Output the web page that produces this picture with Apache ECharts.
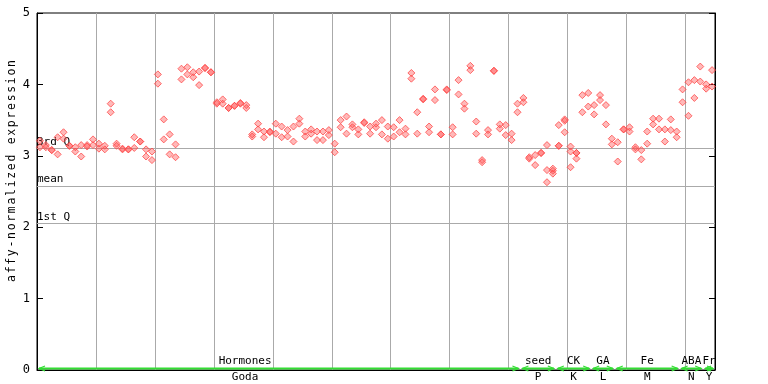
<!DOCTYPE html>
<html>
<head>
<meta charset="utf-8">
<script src="https://cdn.jsdelivr.net/npm/echarts@6/dist/echarts.min.js"></script>
<style>html,body{margin:0;padding:0;background:#fff}#c{width:768px;height:384px}</style>
</head>
<body>
<div id="c"></div>
<script>
// replicate values per sample (sample index = array position)
var rep1 = [3.21,3.15,3.08,3.26,3.33,3.14,3.12,3.15,3.15,3.23,
  3.17,3.14,3.73,3.17,3.10,3.09,3.26,3.20,3.09,3.06,
  4.14,3.51,3.30,3.16,4.22,4.24,4.17,4.18,4.23,4.17,
  3.75,3.79,3.67,3.70,3.74,3.71,3.30,3.45,3.34,3.34,
  3.45,3.41,3.36,3.41,3.52,3.34,3.37,3.34,3.34,3.36,
  3.17,3.50,3.55,3.44,3.37,3.47,3.41,3.45,3.50,3.41,
  3.40,3.50,3.38,4.16,3.61,3.80,3.41,3.93,3.30,3.93,
  3.40,4.06,3.73,4.26,3.48,2.94,3.36,4.19,3.44,3.43,
  3.31,3.73,3.81,2.98,3.01,3.04,3.15,2.82,3.43,3.51,
  3.13,3.04,3.85,3.88,3.71,3.85,3.71,3.24,3.19,3.37,
  3.40,3.12,3.08,3.34,3.52,3.52,3.37,3.51,3.34,3.93,
  4.03,4.06,4.25,4.00,4.20];
var rep2 = [3.12,3.12,3.08,3.02,3.24,3.14,3.06,2.99,3.13,3.15,
  3.10,3.09,3.61,3.14,3.09,3.09,3.11,3.20,2.99,2.94,
  4.01,3.23,3.02,2.98,4.07,4.14,4.10,3.99,4.23,4.17,
  3.73,3.73,3.67,3.70,3.73,3.67,3.27,3.37,3.26,3.33,
  3.31,3.26,3.27,3.20,3.45,3.27,3.31,3.22,3.22,3.29,
  3.05,3.40,3.31,3.40,3.30,3.46,3.31,3.40,3.30,3.24,
  3.27,3.33,3.30,4.08,3.31,3.79,3.33,3.78,3.30,3.92,
  3.30,3.86,3.66,4.20,3.31,2.91,3.30,4.19,3.38,3.29,
  3.22,3.61,3.75,2.96,2.87,3.04,2.80,2.79,3.14,3.49,
  3.06,3.04,3.61,3.69,3.58,3.78,3.44,3.16,2.92,3.37,
  3.34,3.09,2.95,3.17,3.44,3.37,3.20,3.36,3.26,3.75,
  3.56,3.81,4.04,3.94,3.97];
var rep3 = {86: 2.63, 87: 2.75, 88: 3.14, 89: 3.33, 90: 2.84, 91: 2.96};

var quartileValues = [3.105, 2.58, 2.05];
var quartileNames = ['3rd Q', 'mean', '1st Q'];

var groupTop = ['Hormones', 'seed', 'CK', 'GA', 'Fe', 'ABA', 'Fr'];
var groupBottom = ['Goda', 'P', 'K', 'L', 'M', 'N', 'Y'];
var groupStart = [0, 82, 88, 94, 98, 109, 113];
var groupEnd = [82, 88, 94, 98, 109, 113, 115];
var groupLabelAt = [35.3, 85, 91, 96, 103.5, 111, 114];

var yTicks = [0, 1, 2, 3, 4, 5];
var yTitle = 'affy-normalized expression';
var sampleCount = 115;

var FONT = 'DejaVu Sans Mono';
var RED = '#ff4a4a';

function pts(arr) {
  var out = [];
  for (var i = 0; i < arr.length; i++) if (arr[i] != null) out.push([i + 0.5, arr[i]]);
  return out;
}
function pts3(obj) {
  var out = [];
  for (var k in obj) out.push([Number(k) + 0.5, obj[k]]);
  return out;
}

var scatterStyle = {
  type: 'scatter', symbol: 'diamond', symbolSize: 7, silent: true,
  itemStyle: { color: 'rgba(255,80,80,0.5)', borderColor: RED, borderWidth: 1 },
  z: 5
};

var groupData = groupTop.map(function (t, k) { return [groupStart[k], groupEnd[k], groupLabelAt[k], k]; });

// y-axis title drawn letter by letter (wide monospace spacing like the reference)
var titleChars = [];
var step = 8.6, cy = 171, n = yTitle.length;
for (var i = 0; i < n; i++) {
  titleChars.push({
    type: 'text', x: 12, y: cy + (n / 2 - i - 0.5) * step, rotation: Math.PI / 2,
    style: { text: yTitle.charAt(i), fontFamily: FONT, fontSize: 11.5, fill: '#000', align: 'center', verticalAlign: 'middle' }
  });
}

var chart = echarts.init(document.getElementById('c'), null, { renderer: 'canvas' });
chart.setOption({
  animation: false,
  backgroundColor: '#fff',
  grid: { left: 37, right: 53, top: 13, bottom: 14, show: true, borderColor: '#000', borderWidth: 1, backgroundColor: 'transparent' },
  xAxis: {
    type: 'value', min: 0, max: sampleCount, interval: 10,
    axisLine: { show: true, lineStyle: { color: '#000', width: 1 } },
    axisTick: { show: false }, axisLabel: { show: false },
    splitLine: { show: true, lineStyle: { color: '#aaaaaa', width: 1 } }
  },
  yAxis: [{
    type: 'value', min: 0, max: 5, interval: 1,
    axisLine: { show: true, lineStyle: { color: '#000' } },
    axisTick: { show: true, inside: true, length: 6, lineStyle: { color: '#000' } },
    axisLabel: { show: true, color: '#000', fontFamily: FONT, fontSize: 12, margin: 7,
      formatter: function (v) { return yTicks.indexOf(v) >= 0 ? String(v) : ''; } },
    splitLine: { show: false }
  }, {
    type: 'value', min: 0, max: 5, interval: 1, position: 'right',
    axisLine: { show: true, lineStyle: { color: '#000' } },
    axisTick: { show: true, inside: true, length: 6, lineStyle: { color: '#000' } },
    axisLabel: { show: false }, splitLine: { show: false }
  }],
  graphic: [{ type: 'group', children: titleChars }],
  series: [
    Object.assign({}, scatterStyle, {
      data: pts(rep1),
      markLine: {
        silent: true, symbol: 'none',
        lineStyle: { color: '#aaaaaa', type: 'solid', width: 1 },
        label: { show: true, position: 'insideStartTop', distance: [0, 1], color: '#000', fontFamily: FONT, fontSize: 11,
          formatter: function (p) { return p.name; } },
        data: quartileValues.map(function (v, k) { return { yAxis: v, name: quartileNames[k] }; }),
        z: 1
      }
    }),
    Object.assign({}, scatterStyle, { data: pts(rep2) }),
    Object.assign({}, scatterStyle, { data: pts3(rep3) }),
    {
      type: 'custom', silent: true, clip: false, z: 10,
      data: groupData,
      renderItem: function (params, api) {
        var s = api.coord([api.value(0), 0]);
        var e = api.coord([api.value(1), 0]);
        var c = api.coord([api.value(2), 0]);
        var k = api.value(3);
        var y = s[1] - 1.5;
        var x1 = s[0] + 2, x2 = e[0] - 2;
        var green = '#33dd33';
        return {
          type: 'group',
          children: [
            { type: 'line', shape: { x1: x1, y1: y, x2: x2, y2: y }, style: { stroke: green, lineWidth: 2 } },
            { type: 'polyline', shape: { points: [[x1 + 6, y - 2.5], [x1, y], [x1 + 6, y + 2.5]] }, style: { stroke: green, lineWidth: 1.2, fill: null } },
            { type: 'polyline', shape: { points: [[x2 - 6, y - 2.5], [x2, y], [x2 - 6, y + 2.5]] }, style: { stroke: green, lineWidth: 1.2, fill: null } },
            { type: 'text', x: c[0], y: y - 2, style: { text: groupTop[k], fontFamily: FONT, fontSize: 11, fill: '#000', align: 'center', verticalAlign: 'bottom' } },
            { type: 'text', x: c[0], y: s[1] + 2, style: { text: groupBottom[k], fontFamily: FONT, fontSize: 11, fill: '#000', align: 'center', verticalAlign: 'top' } }
          ]
        };
      }
    }
  ]
});
</script>
</body>
</html>
